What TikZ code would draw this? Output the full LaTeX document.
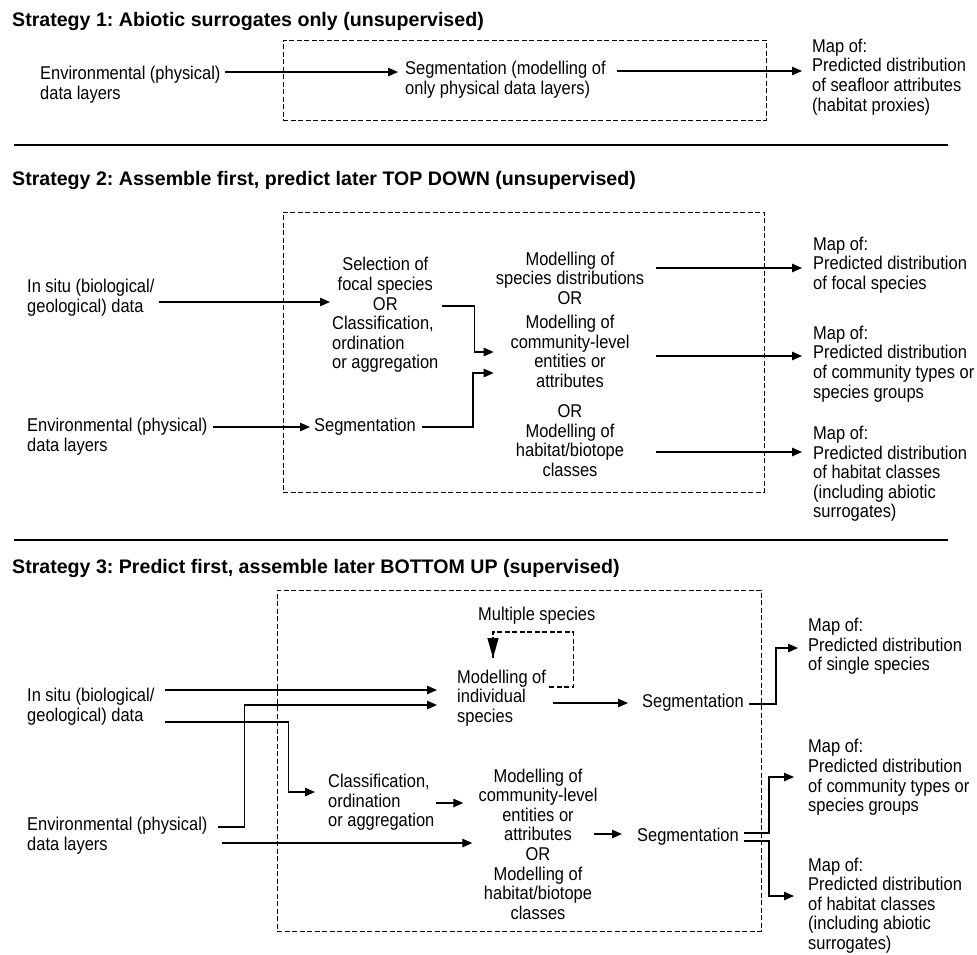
\documentclass[tikz,border=0pt]{standalone}
\usepackage{fontspec}
\setmainfont{Liberation Sans}
\newfontfamily\bodyfam[FakeStretch=0.89]{Liberation Sans}
\usetikzlibrary{arrows.meta,calc}
\frenchspacing
\newcommand{\bodyfnt}{\bodyfam\fontsize{18.5}{19.6}\selectfont}
\newcommand{\titlefnt}{\bfseries\fontsize{19.6}{23}\selectfont}
\tikzset{
  txt/.style={inner sep=0pt, font=\bodyfnt, align=left, anchor=west,
    execute at begin node=\strut, execute at end node=\strut},
  ctxt/.style={txt, align=center, anchor=center},
  ttl/.style={inner sep=0pt, anchor=west, font=\titlefnt},
  arr/.style={line width=1.2pt, -{Triangle[length=10pt,width=8.5pt]}},
  ln/.style={line width=1.2pt},
  dbox/.style={draw, line width=1pt, dash pattern=on 5pt off 2.5pt, inner sep=0pt},
  dln/.style={line width=1.1pt, dash pattern=on 5pt off 2.5pt},
  sepline/.style={line width=1.5pt}
}
\begin{document}
\begin{tikzpicture}[x=1pt,y=-1pt]
\useasboundingbox[fill=white] (0,0) rectangle (977,954);

% ---------------- Strategy 1 ----------------
\node[ttl] (t1) at (12,21) {Strategy 1: Abiotic surrogates only (unsupervised)};
\node[dbox, minimum width=483pt, minimum height=80pt] (box1) at (524.5,80) {};
\node[txt] (env1) at (40,86) {Environmental (physical)\\data layers};
\node[txt] (seg1) at (405,81) {Segmentation (modelling of\\only physical data layers)};
\node[txt] (map1) at (812,78) {Map of:\\Predicted distribution\\of seafloor attributes\\(habitat proxies)};
\draw[arr] ($(env1.east)+(4,-14)$) -- ($(seg1.west)+(-7,-9)$);
\draw[arr] ($(seg1.east)+(11,-10)$) -- ($(map1.west)+(-10,-7)$);

\coordinate (s1a) at (14,145);
\coordinate (s1b) at (948,145);
\draw[sepline] (s1a) -- (s1b);

% ---------------- Strategy 2 ----------------
\node[ttl] (t2) at (12,180) {Strategy 2: Assemble first, predict later TOP DOWN (unsupervised)};
\node[dbox, minimum width=481pt, minimum height=280pt] (box2) at (523.5,352) {};
\node[txt] (insitu2) at (27,299) {In situ (biological/\\geological) data};
\node[txt] (env2) at (27,438) {Environmental (physical)\\data layers};
\node[inner sep=0pt, font=\bodyfnt, anchor=west] (sel) at (332,316) {\begin{tabular}{@{}l@{}}\multicolumn{1}{@{}c@{}}{Selection of}\\\multicolumn{1}{@{}c@{}}{focal species}\\\multicolumn{1}{@{}c@{}}{OR}\\Classification,\\ordination\\or aggregation\end{tabular}};
\node[txt] (segm2) at (314,428) {Segmentation};
\node[ctxt] (mod2) at (570,367) {Modelling of\\species distributions\\OR\\[4.5pt]Modelling of\\community-level\\entities or\\attributes\\[10.5pt]OR\\Modelling of\\habitat/biotope\\classes};
\node[txt] (mapA) at (813,266) {Map of:\\Predicted distribution\\of focal species};
\node[txt] (mapB) at (813,365) {Map of:\\Predicted distribution\\of community types or\\species groups};
\node[txt] (mapC) at (813,475) {Map of:\\Predicted distribution\\of habitat classes\\(including abiotic\\surrogates)};

\draw[arr] ($(insitu2.east)+(4,3)$) -- ($(sel.west)+(-2,-14)$);
\draw[arr] ($(env2.east)+(5,-11)$) -- ($(segm2.west)+(-4,-1)$);
\coordinate (sA) at ($(sel.east)+(3,-10)$);
\coordinate (eA) at ($(mod2.west)+(-2,-15)$);
\draw[arr] (sA) -- ($(sA)+(33,0)$) |- (eA);
\coordinate (sB) at ($(segm2.east)+(6,-1)$);
\coordinate (eB) at ($(mod2.west)+(-2,6)$);
\draw[arr] (sB) -- ($(sB)+(51,0)$) |- (eB);
\draw[arr] ($(mod2.east)+(12,-99)$) -- ($(mapA.west)+(-11,2)$);
\draw[arr] ($(mod2.east)+(12,-11)$) -- ($(mapB.west)+(-11,-9)$);
\draw[arr] ($(mod2.east)+(12,85)$) -- ($(mapC.west)+(-11,-23)$);

\coordinate (s2a) at (14,540);
\coordinate (s2b) at (948,540);
\draw[sepline] (s2a) -- (s2b);

% ---------------- Strategy 3 ----------------
\node[ttl] (t3) at (12,568) {Strategy 3: Predict first, assemble later BOTTOM UP (supervised)};
\node[dbox, minimum width=484pt, minimum height=341pt] (box3) at (519,760.5) {};
\node[txt] (ms) at (478,617) {Multiple species};
\node[txt] (ind) at (457,699) {Modelling of\\individual\\species};
\node[txt] (seg3a) at (642,704) {Segmentation};
\node[txt] (map3a) at (808,647.5) {Map of:\\Predicted distribution\\of single species};
\node[txt] (insitu3) at (27,708) {In situ (biological/\\geological) data};
\node[txt] (env3) at (27,836.5) {Environmental (physical)\\data layers};
\node[txt] (cls) at (328,803.5) {Classification,\\ordination\\or aggregation};
\node[ctxt] (mod3) at (538,847) {Modelling of\\community-level\\entities or\\attributes\\OR\\Modelling of\\habitat/biotope\\classes};
\node[txt] (seg3b) at (637,838) {Segmentation};
\node[txt] (map3b) at (808,778.5) {Map of:\\Predicted distribution\\of community types or\\species groups};
\node[txt] (map3c) at (808,906.5) {Map of:\\Predicted distribution\\of habitat classes\\(including abiotic\\surrogates)};

% inputs
\draw[arr] ($(insitu3.east)+(10,-18)$) -- ($(ind.west)+(-20,-9)$);
\coordinate (sC) at ($(insitu3.east)+(10,14)$);
\coordinate (eC) at ($(cls.west)+(-13,-11.5)$);
\draw[arr] (sC) -- ($(sC)+(124,0)$) |- (eC);
\coordinate (sD) at ($(env3.east)+(10,-9.5)$);
\coordinate (eD) at ($(ind.west)+(-20,6)$);
\draw[arr] (sD) -- ($(sD)+(27,0)$) |- (eD);
\draw[arr] ($(env3.east)+(14,6.5)$) -- ($(mod3.west)+(-6,-4)$);
\draw[arr] ($(cls.east)+(1,-0.5)$) -- ($(mod3.west)+(-15,-44)$);

% loop
\coordinate (sL) at ($(ind.east)+(3,-12)$);
\coordinate (eL) at (493,658);
\draw[dln] (sL) -- ($(sL)+(24,0)$) |- (493,632) -- (eL);
\draw[-{Triangle[length=20pt,width=11pt]}, line width=1.1pt] (493,637) -- (eL);

% outputs
\draw[arr] ($(ind.east)+(7,4)$) -- ($(seg3a.west)+(-14,-1)$);
\coordinate (sE) at ($(seg3a.east)+(5,0)$);
\coordinate (eE) at ($(map3a.west)+(-10,0.5)$);
\draw[arr] (sE) -- ($(sE)+(27,0)$) |- (eE);
\draw[arr] ($(mod3.east)+(-4,-13)$) -- ($(seg3b.west)+(-15,-4)$);
\coordinate (sF) at ($(seg3b.east)+(5,-5)$);
\coordinate (eF) at ($(map3b.west)+(-14,-1.5)$);
\draw[arr] (sF) -- ($(sF)+(25,0)$) |- (eF);
\coordinate (sG) at ($(seg3b.east)+(5,3)$);
\coordinate (eG) at ($(map3c.west)+(-14,-10.5)$);
\draw[arr] (sG) -- ($(sG)+(25,0)$) |- (eG);
\end{tikzpicture}
\end{document}
